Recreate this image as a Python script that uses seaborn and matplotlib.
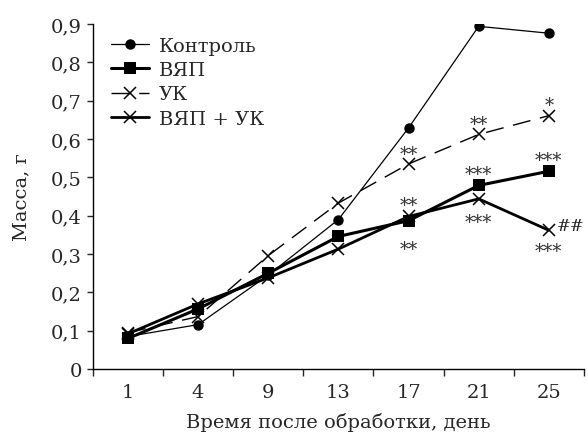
import matplotlib
matplotlib.use("Agg")
import matplotlib.pyplot as plt
import seaborn as sns
import pandas as pd
from matplotlib.ticker import FixedLocator, FuncFormatter

days = ["1", "4", "9", "13", "17", "21", "25"]
control = [0.085, 0.116, 0.245, 0.390, 0.629, 0.894, 0.876]
vyap = [0.080, 0.157, 0.250, 0.346, 0.387, 0.479, 0.516]
uk = [0.095, 0.137, 0.296, 0.433, 0.535, 0.612, 0.661]
vyap_uk = [0.092, 0.170, 0.238, 0.313, 0.398, 0.444, 0.362]
series_names = ["Контроль", "ВЯП", "УК", "ВЯП + УК"]

# significance marks: day index, value of the marked point, text, offset (px) of baseline
ann_day = [4, 5, 6, 4, 4, 5, 5, 6, 6]
ann_val = [0.535, 0.612, 0.661, 0.398, 0.387, 0.479, 0.444, 0.516, 0.362]
ann_txt = ["**", "**", "*", "**", "**", "***", "***", "***", "***"]
ann_dy = [5, 5, 6, 6, -33, 6, -28, 6, -26]

sns.set_theme(style="ticks")
plt.rcParams["font.family"] = ["DejaVu Serif"]

fig = plt.figure(figsize=(5.88, 4.39), dpi=100)
ax = fig.add_axes([0.158, 0.157, 0.835, 0.786])

styles = [
    dict(marker="o", markersize=7.5, linewidth=0.9, mew=0),
    dict(marker="s", markersize=8.5, linewidth=2.2, mew=0),
    dict(marker="x", markersize=8.5, linewidth=1.0, mew=1.1),
    dict(marker="x", markersize=8.5, linewidth=2.0, mew=1.1),
]
values = [control, vyap, uk, vyap_uk]
for name, vals, st in zip(series_names, values, styles):
    df = pd.DataFrame({"day": days, "mass": vals})
    sns.lineplot(data=df, x="day", y="mass", sort=False, ax=ax, color="black",
                 label=name, marker=st["marker"], markersize=st["markersize"],
                 linewidth=st["linewidth"], markeredgewidth=st["mew"],
                 markeredgecolor="black", zorder=3)

ax.lines[2].set_dashes((13, 7))

for d, v, t, dy in zip(ann_day, ann_val, ann_txt, ann_dy):
    ax.annotate(t, (d, v), xytext=(0, dy), textcoords="offset pixels",
                ha="center", va="baseline", fontsize=13, color="#333333", zorder=4)
ax.annotate("##", (6, 0.362), xytext=(8, 0), textcoords="offset pixels",
            ha="left", va="baseline", fontsize=12, color="#222222")

ax.set_xlim(-0.5, 6.5)
ax.set_ylim(0, 0.9)
ax.xaxis.set_major_locator(FixedLocator(range(len(days))))
ax.set_xticklabels(days)
ax.xaxis.set_minor_locator(FixedLocator([i + 0.5 for i in range(-1, len(days))]))
ax.tick_params(axis="x", which="major", length=0, pad=10, labelsize=14)
ax.tick_params(axis="x", which="minor", length=5, width=1, direction="out")
ax.set_yticks([i / 10 for i in range(10)])
ax.yaxis.set_major_formatter(FuncFormatter(lambda v, p: "0" if v == 0 else f"{v:.1f}".replace(".", ",")))
ax.tick_params(axis="y", length=4, width=1, labelsize=14, direction="out", pad=4)
for s in ["top", "right"]:
    ax.spines[s].set_visible(False)
for s in ["left", "bottom"]:
    ax.spines[s].set_linewidth(1)
    ax.spines[s].set_color("black")

ax.set_xlabel("Время после обработки, день", fontsize=14, labelpad=8)
ax.set_ylabel("Масса, г", fontsize=14, labelpad=15)

leg = ax.legend(loc="upper left", bbox_to_anchor=(0.02, 0.985), frameon=False, fontsize=14,
                handlelength=2.0, handletextpad=0.5, labelspacing=0.32, borderaxespad=0)

fig.savefig("out.png", dpi=100)
